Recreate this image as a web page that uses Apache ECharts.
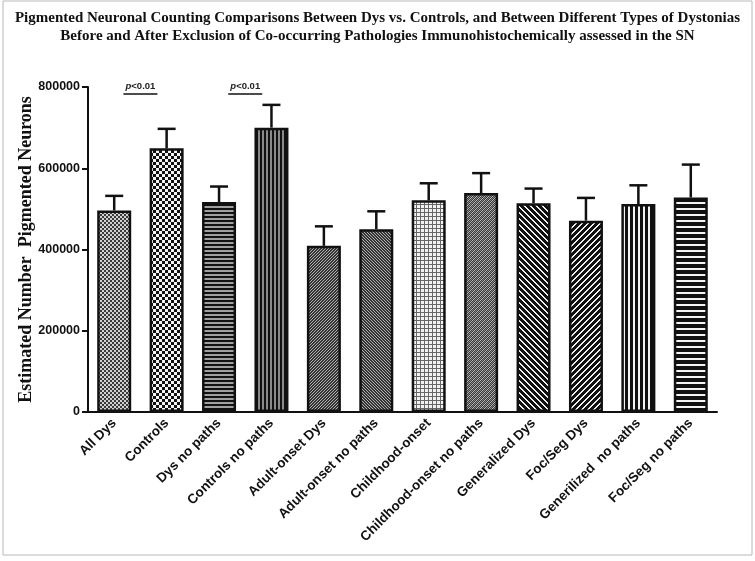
<!DOCTYPE html>
<html>
<head>
<meta charset="utf-8">
<script src="https://cdn.jsdelivr.net/npm/echarts@6/dist/echarts.min.js"></script>
<style>html,body{margin:0;padding:0;background:#fff;}#c{width:755px;height:561px;}</style>
</head>
<body>
<div id="c"></div>
<script>
const categories = ['All Dys','Controls','Dys no paths','Controls no paths','Adult-onset Dys','Adult-onset no paths','Childhood-onset','Childhood-onset no paths','Generalized Dys','Foc/Seg Dys','Generilized  no paths','Foc/Seg no paths'];
const means = [496000, 649000, 517000, 700000, 409000, 450000, 521000, 539000, 514000, 471000, 512000, 528000];
const sems  = [36000, 48000, 38000, 56000, 48000, 44000, 42000, 49000, 36000, 56000, 46000, 81000];
const yTicks = [0, 200000, 400000, 600000, 800000];
const comparisons = [[0, 1, 'p<0.01'], [2, 3, 'p<0.01']];
const patternNames = ['fineCheck','coarseCheck','hFine','vFine','diagFineUp','diagFineDown','grid','dotDiag','diagDown','diagUp','vCoarse','hCoarse'];

function makeCanvas(w, h, fn) {
  const c = document.createElement('canvas');
  c.width = w; c.height = h;
  const g = c.getContext('2d');
  for (let y = 0; y < h; y++) for (let x = 0; x < w; x++) {
    g.fillStyle = fn(x, y);
    g.fillRect(x, y, 1, 1);
  }
  return c;
}
const patterns = {
  fineCheck: makeCanvas(4, 4, (x, y) => ((Math.floor(x/2) + Math.floor(y/2)) % 2 ? '#3a3a3a' : '#d0d0d0')),
  coarseCheck: makeCanvas(6, 6, (x, y) => ((Math.floor(x/3) + Math.floor(y/3)) % 2 ? '#111' : '#f4f4f4')),
  hFine: makeCanvas(4, 4, (x, y) => (y < 2 ? '#111' : '#a0a0a0')),
  vFine: makeCanvas(4, 4, (x, y) => (x < 2 ? '#111' : '#8a8a8a')),
  diagFineUp: makeCanvas(3, 3, (x, y) => ((x + y) % 3 === 0 ? '#b0b0b0' : '#333')),
  diagFineDown: makeCanvas(3, 3, (x, y) => ((x - y + 3) % 3 === 0 ? '#b0b0b0' : '#333')),
  grid: makeCanvas(4, 4, (x, y) => ((x === 0 || y === 0) ? '#666' : '#f2f2f2')),
  dotDiag: makeCanvas(4, 4, (x, y) => ((x + y) % 4 === 0 ? '#bbb' : ((x + y) % 4 === 2 ? '#888' : '#3a3a3a'))),
  diagDown: makeCanvas(6, 6, (x, y) => (((x - y + 60) % 6) < 2 ? '#eee' : '#111')),
  diagUp: makeCanvas(6, 6, (x, y) => (((x + y) % 6) < 2 ? '#eee' : '#111')),
  vCoarse: makeCanvas(5, 5, (x, y) => (x < 3 ? '#111' : '#f4f4f4')),
  hCoarse: makeCanvas(6, 6, (x, y) => (y < 4 ? '#111' : '#f4f4f4'))
};

const barData = means.map((v, i) => ({
  value: v,
  itemStyle: { color: { image: patterns[patternNames[i]], repeat: 'repeat' } }
}));
const errData = means.map((v, i) => [i, v, v + sems[i]]);

const chart = echarts.init(document.getElementById('c'), null, { renderer: 'canvas' });
chart.setOption({
  animation: false,
  backgroundColor: '#fff',
  title: {
    text: 'Pigmented Neuronal Counting Comparisons Between Dys vs. Controls, and Between Different Types of Dystonias\nBefore and After Exclusion of Co-occurring Pathologies Immunohistochemically assessed in the SN',
    left: 'center', top: 4,
    textStyle: { fontFamily: 'Liberation Serif', fontWeight: 'bold', fontSize: 15, lineHeight: 18, color: '#111' }
  },
  graphic: [{
    type: 'rect', silent: true, z: -1,
    shape: { x: 3, y: 1, width: 749, height: 554 },
    style: { fill: 'none', stroke: '#b8b8b8', lineWidth: 1 }
  }],
  grid: { left: 88, right: 38, top: 87, bottom: 149 },
  xAxis: {
    type: 'category',
    data: categories,
    axisLine: { lineStyle: { color: '#111', width: 2 } },
    axisTick: { alignWithLabel: true, length: 5, lineStyle: { color: '#111', width: 2 } },
    axisLabel: { rotate: 45, interval: 0, margin: 9, color: '#111', fontFamily: 'Liberation Sans', fontWeight: 'bold', fontSize: 13.5 }
  },
  yAxis: {
    type: 'value',
    min: 0, max: 800000, interval: 200000,
    name: 'Estimated Number  Pigmented Neurons',
    nameLocation: 'middle', nameGap: 53, nameMoveOverlap: false,
    nameTextStyle: { fontFamily: 'Liberation Serif', fontSize: 18, fontWeight: 'bold', color: '#111' },
    splitLine: { show: false },
    axisLine: { show: true, lineStyle: { color: '#111', width: 2 } },
    axisTick: { show: true, length: 6, lineStyle: { color: '#111', width: 2 } },
    axisLabel: { margin: 8, color: '#111', fontFamily: 'Liberation Sans', fontWeight: 'bold', fontSize: 12.5,
      formatter: v => (yTicks.indexOf(v) >= 0 ? String(v) : '') }
  },
  series: [
    {
      type: 'bar', data: barData, barWidth: 34,
      itemStyle: { borderColor: '#111', borderWidth: 2.5 }
    },
    {
      type: 'custom', data: errData, z: 1,
      renderItem: (params, api) => {
        const top = api.coord([api.value(0), api.value(2)]);
        const base = api.coord([api.value(0), api.value(1)]);
        const st = { stroke: '#111', lineWidth: 2.5 };
        return { type: 'group', children: [
          { type: 'line', shape: { x1: base[0], y1: base[1], x2: top[0], y2: top[1] }, style: st },
          { type: 'line', shape: { x1: top[0] - 9, y1: top[1], x2: top[0] + 9, y2: top[1] }, style: st }
        ] };
      }
    },
    {
      type: 'custom', data: comparisons.map(c => [c[0], c[1]]), z: 3, clip: false,
      renderItem: (params, api) => {
        const a = api.coord([api.value(0), 783000]);
        const b = api.coord([api.value(1), 783000]);
        const mx = (a[0] + b[0]) / 2;
        return { type: 'group', children: [
          { type: 'line', shape: { x1: mx - 17, y1: a[1], x2: mx + 17, y2: a[1] }, style: { stroke: '#111', lineWidth: 1.5 } },
          { type: 'text', x: mx, y: a[1] - 3, style: {
            text: '{i|p}<0.01', x: 0, y: 0, align: 'center', verticalAlign: 'bottom',
            fontFamily: 'Liberation Sans', fontSize: 9.5, fontWeight: 'bold', fill: '#222',
            rich: { i: { fontStyle: 'italic', fontFamily: 'Liberation Sans', fontSize: 9.5, fontWeight: 'bold' } }
          } }
        ] };
      }
    }
  ]
});
</script>
</body>
</html>
